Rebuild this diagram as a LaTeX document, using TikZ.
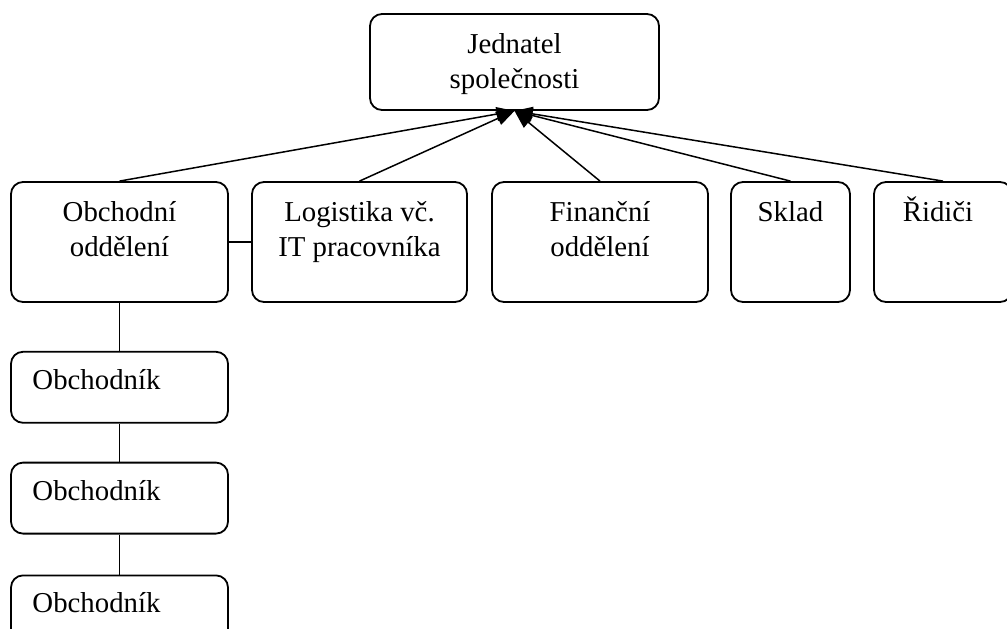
\documentclass[tikz,border=0pt]{standalone}
\usepackage{fontspec}
\setmainfont{Liberation Serif}
\usetikzlibrary{arrows.meta}
\usetikzlibrary{positioning}

\newcommand{\topstrut}{\rule{0pt}{14pt}}

\begin{document}
\begin{tikzpicture}[x=1pt, y=1pt,
    box/.style={draw, rounded corners=6pt, line width=0.9pt, minimum height=60pt},
    person/.style={box, minimum width=108.5pt, minimum height=35.5pt},
    txt/.style={inner sep=0pt, align=center, font=\fontsize{14.4}{17.5}\selectfont},
    link/.style={line width=0.75pt},
    up/.style={link, -{Triangle[length=9pt, width=7pt]}},
    node distance=19pt]
    \useasboundingbox (0,0) rectangle (503.5,-314);

    % top
    \node[box, minimum width=144.5pt, minimum height=48pt] (boss) at (257.25,-31) {};
    \node[txt, below=6pt of boss.north] (bosstxt) {\topstrut Jednatel\\společnosti};

    % departments
    \node[box, minimum width=108.5pt] (obch) at (59.75,-121) {};
    \node[box, minimum width=107.5pt] (logi) at (179.75,-121) {};
    \node[box, minimum width=108pt] (fin) at (300,-121) {};
    \node[box, minimum width=59.5pt] (sklad) at (395.25,-121) {};
    \node[box, minimum width=69pt] (ridici) at (471.5,-121) {};

    \node[txt, below=6pt of obch.north] (obchtxt) {\topstrut Obchodní\\oddělení};
    \node[txt, below=6pt of logi.north] (logitxt) {\topstrut Logistika vč.\\IT pracovníka};
    \node[txt, below=6pt of fin.north] (fintxt) {\topstrut Finanční\\oddělení};
    \node[txt, below=6pt of sklad.north] (skladtxt) {\topstrut Sklad};
    \node[txt, below=6pt of ridici.north, xshift=-2.5pt] (riditxt) {\topstrut Řidiči};

    % sales people
    \node[person, below=24pt of obch] (ob1) {};
    \node[person, below=of ob1] (ob2) {};
    \node[person, below=20pt of ob2] (ob3) {};

    \node[txt, below right=5pt and 11pt of ob1.north west] (ob1txt) {\topstrut Obchodník};
    \node[txt, below right=5pt and 11pt of ob2.north west] (ob2txt) {\topstrut Obchodník};
    \node[txt, below right=5pt and 11pt of ob3.north west] (ob3txt) {\topstrut Obchodník};

    \draw[up] (obch.north) -- (boss.south);
    \draw[up] (logi.north) -- (boss.south);
    \draw[up] (fin.north) -- (boss.south);
    \draw[up] (sklad.north) -- (boss.south);
    \draw[up] (ridici.north) -- (boss.south);

    \draw[link] (obch.east) -- (logi.west);
    \draw[link] (obch.south) -- (ob1.north);
    \draw[link] (ob1.south) -- (ob2.north);
    \draw[link] (ob2.south) -- (ob3.north);
\end{tikzpicture}
\end{document}
